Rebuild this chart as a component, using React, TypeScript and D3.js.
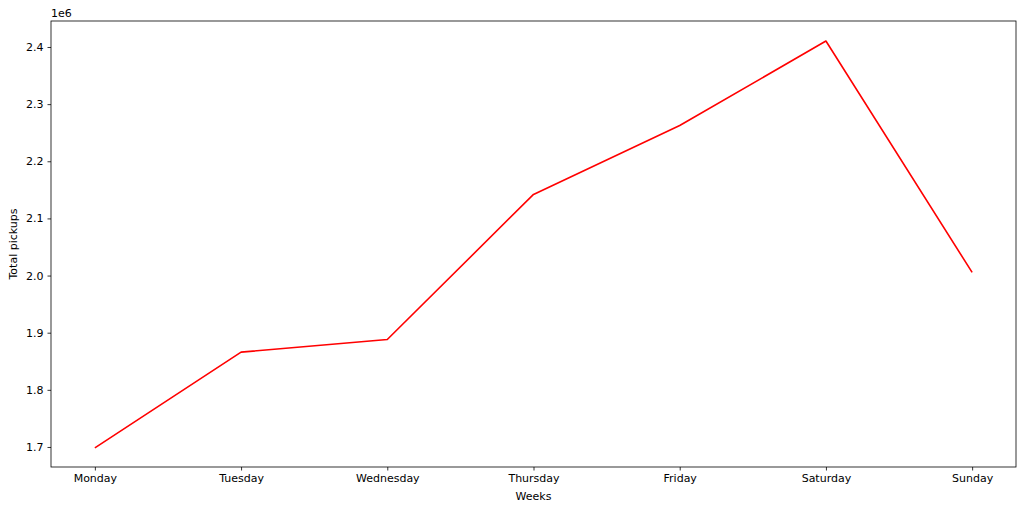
import { useEffect, useRef } from 'react';
import * as d3 from 'd3';

const days = ['Monday', 'Tuesday', 'Wednesday', 'Thursday', 'Friday', 'Saturday', 'Sunday'];
const pickups = [1698500, 1866000, 1888000, 2142000, 2262500, 2410500, 2005500];
const yTicks = [1.7, 1.8, 1.9, 2.0, 2.1, 2.2, 2.3, 2.4];

export default function App() {
  const containerRef = useRef<HTMLDivElement>(null);

  useEffect(() => {
    document.body.style.margin = '0';
    if (!containerRef.current) return;
    d3.select(containerRef.current).selectAll('*').remove();

    const width = 1024;
    const height = 512;
    const margin = { top: 21, right: 8, bottom: 45, left: 51 };
    const innerWidth = width - margin.left - margin.right;
    const innerHeight = height - margin.top - margin.bottom;
    const font = 'DejaVu Sans, sans-serif';

    const svg = d3
      .select(containerRef.current)
      .append('svg')
      .attr('width', width)
      .attr('height', height)
      .style('display', 'block')
      .style('background', '#fff');

    const g = svg.append('g').attr('transform', `translate(${margin.left},${margin.top})`);

    // matplotlib-style 5% margins on the categorical x axis
    const x = d3
      .scaleLinear()
      .domain([-0.3, days.length - 1 + 0.3])
      .range([0, innerWidth]);

    const y = d3.scaleLinear().domain([1.66495, 2.4455]).range([innerHeight, 0]);

    // x axis
    const xAxis = g
      .append('g')
      .attr('transform', `translate(0,${innerHeight})`)
      .call(
        d3
          .axisBottom(x)
          .tickValues(days.map((_, i) => i))
          .tickFormat((d) => days[d as number])
          .tickSize(3.5)
          .tickPadding(4)
      );
    xAxis.select('.domain').remove();
    xAxis.selectAll('line').attr('stroke', '#000').attr('stroke-width', 0.8);
    xAxis.selectAll('text').attr('font-size', '11px').attr('font-family', font).attr('fill', '#000');

    // y axis
    const yAxis = g
      .append('g')
      .call(
        d3
          .axisLeft(y)
          .tickValues(yTicks)
          .tickFormat((d) => (d as number).toFixed(1))
          .tickSize(3.5)
          .tickPadding(4)
      );
    yAxis.select('.domain').remove();
    yAxis.selectAll('line').attr('stroke', '#000').attr('stroke-width', 0.8);
    yAxis.selectAll('text').attr('font-size', '11px').attr('font-family', font).attr('fill', '#000');

    // line
    const line = d3
      .line<number>()
      .x((_, i) => x(i))
      .y((d) => y(d / 1e6));

    g.append('path')
      .datum(pickups)
      .attr('d', line)
      .attr('fill', 'none')
      .attr('stroke', '#ff0000')
      .attr('stroke-width', 1.6)
      .attr('stroke-linejoin', 'round');

    // spines
    g.append('rect')
      .attr('width', innerWidth)
      .attr('height', innerHeight)
      .attr('fill', 'none')
      .attr('stroke', '#000')
      .attr('stroke-width', 0.8);

    // labels
    svg
      .append('text')
      .attr('x', margin.left + innerWidth / 2)
      .attr('y', 500)
      .attr('text-anchor', 'middle')
      .attr('font-size', '11px')
      .attr('font-family', font)
      .text('Weeks');

    svg
      .append('text')
      .attr('transform', `translate(17,${margin.top + innerHeight / 2}) rotate(-90)`)
      .attr('text-anchor', 'middle')
      .attr('font-size', '11px')
      .attr('font-family', font)
      .text('Total pickups');

    svg
      .append('text')
      .attr('x', margin.left)
      .attr('y', 17)
      .attr('font-size', '11px')
      .attr('font-family', font)
      .text('1e6');
  }, []);

  return <div ref={containerRef}></div>;
}
